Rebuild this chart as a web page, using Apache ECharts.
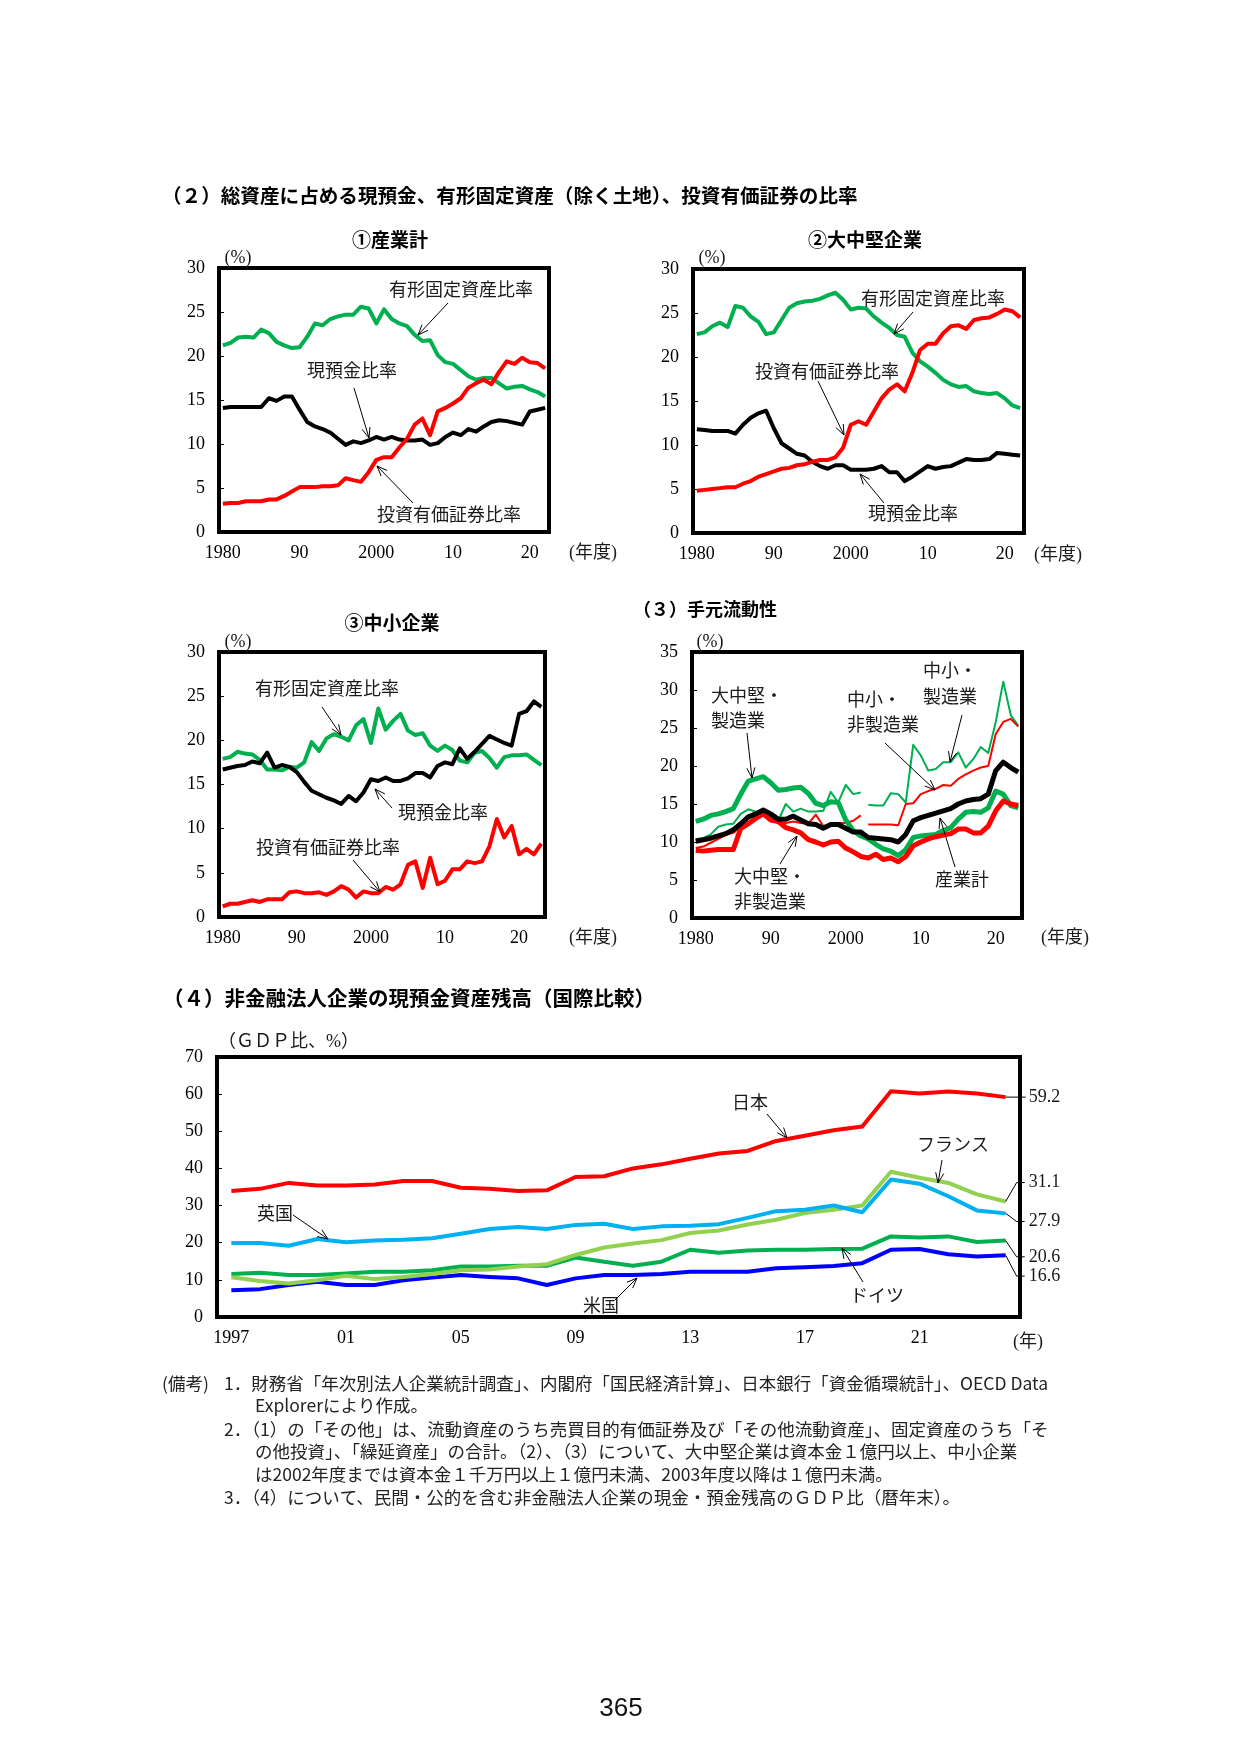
<!DOCTYPE html>
<html>
<head>
<meta charset="utf-8">
<script src="https://cdn.jsdelivr.net/npm/echarts@6/dist/echarts.min.js"></script>
<style>
  html, body { margin: 0; padding: 0; background: #fff; }
  #page { width: 1241px; height: 1755px; }
</style>
</head>
<body>
<div id="page"></div>
<script>
// 年度（カテゴリ）
function range(a, b) { var r = []; for (var i = a; i <= b; i++) r.push(String(i)); return r; }
var years80_22 = range(1980, 2022);
var years80_23 = range(1980, 2023);
var years97_24 = range(1997, 2024);

var tickYears = ['1980', '1990', '2000', '2010', '2020'];
var tickLabels = ['1980', '90', '2000', '10', '20'];
var tickYears5 = ['1997', '2001', '2005', '2009', '2013', '2017', '2021'];
var tickLabels5 = ['1997', '01', '05', '09', '13', '17', '21'];

// ①産業計
var c1Fixed = [21.2,21.5,22.1,22.2,22.1,23.0,22.6,21.6,21.2,20.9, 21.0,22.2,23.7,23.5,24.2,24.5,24.7,24.7,25.6,25.4, 23.7,25.3,24.2,23.7,23.4,22.4,21.7,21.8,20.1,19.3, 19.1,18.4,17.7,17.3,17.5,17.5,16.9,16.3,16.5,16.6, 16.2,15.9,15.4];
var c1Cash  = [14.1,14.2,14.2,14.2,14.2,14.2,15.2,14.9,15.4,15.4, 13.9,12.5,12.0,11.7,11.3,10.6,9.9,10.3,10.1,10.4, 10.8,10.5,10.8,10.5,10.4,10.4,10.5,9.9,10.1,10.8, 11.3,11.0,11.7,11.4,12.0,12.5,12.7,12.6,12.4,12.2, 13.7,13.9,14.1];
var c1Sec   = [3.2,3.3,3.3,3.5,3.5,3.5,3.7,3.7,4.1,4.6, 5.1,5.1,5.1,5.2,5.2,5.3,6.1,5.9,5.7,6.8, 8.2,8.5,8.5,9.6,10.6,12.2,12.9,11.0,13.7,14.1, 14.6,15.2,16.4,16.9,17.3,16.8,18.2,19.4,19.1,19.8, 19.3,19.2,18.6];

// ②大中堅企業
var c2Fixed = [22.6,22.8,23.5,23.9,23.4,25.8,25.6,24.6,24.0,22.6, 22.8,24.2,25.6,26.1,26.3,26.4,26.6,27.0,27.3,26.5, 25.4,25.6,25.5,24.6,23.9,23.3,22.5,22.3,20.5,19.5, 18.9,18.2,17.4,16.9,16.6,16.7,16.1,15.9,15.8,15.9, 15.3,14.5,14.2];
var c2Sec   = [4.8,4.9,5.0,5.1,5.2,5.2,5.6,5.9,6.4,6.7, 7.0,7.3,7.4,7.7,7.8,8.1,8.3,8.3,8.6,9.7, 12.3,12.7,12.3,13.8,15.3,16.3,16.9,16.1,18.2,20.8, 21.5,21.5,22.7,23.5,23.6,23.2,24.2,24.4,24.5,24.9, 25.4,25.2,24.5];
var c2Cash  = [11.8,11.7,11.6,11.6,11.6,11.3,12.3,13.1,13.6,13.9, 11.9,10.2,9.6,9.0,8.8,8.1,7.6,7.3,7.7,7.7, 7.2,7.2,7.2,7.3,7.6,6.9,6.9,5.9,6.4,7.0, 7.6,7.3,7.5,7.6,8.0,8.4,8.3,8.3,8.4,9.1, 9.0,8.9,8.8];

// ③中小企業
var c3Fixed = [17.9,18.1,18.7,18.5,18.4,17.8,16.7,16.7,16.6,17.0, 16.9,17.5,19.8,18.8,20.2,20.7,20.4,20.0,21.7,22.4, 19.7,23.6,21.2,22.2,23.0,21.1,20.6,20.8,19.4,18.8, 19.4,18.9,17.7,17.5,18.6,18.8,18.0,16.9,18.1,18.3, 18.3,18.4,17.8,17.2];
var c3Cash  = [16.7,16.9,17.1,17.2,17.6,17.4,18.6,16.9,17.2,17.0, 16.4,15.3,14.3,13.9,13.5,13.2,12.8,13.7,13.1,14.1, 15.6,15.4,15.8,15.4,15.4,15.7,16.3,16.3,15.8,17.1, 17.5,17.3,19.1,17.9,18.7,19.6,20.5,20.1,19.7,19.4, 23.0,23.3,24.4,23.8];
var c3Sec   = [1.2,1.5,1.5,1.7,1.9,1.7,2.0,2.0,2.0,2.8, 2.9,2.7,2.7,2.8,2.5,2.9,3.5,3.1,2.2,2.9, 2.7,2.7,3.4,3.1,3.7,5.9,6.3,3.3,6.7,3.7, 4.1,5.4,5.4,6.3,6.1,6.3,8.0,11.1,9.0,10.3, 7.1,7.7,7.1,8.3];

// （３）手元流動性
var liqTotal    = [10.1,10.3,10.5,10.8,11.1,11.6,12.4,13.3,13.7,14.2, 13.7,13.0,13.0,13.4,12.9,12.4,12.3,11.8,12.3,12.3, 11.8,11.3,11.3,10.6,10.5,10.4,10.3,10.0,11.0,12.8, 13.2,13.5,13.8,14.1,14.4,15.0,15.4,15.6,15.7,16.3, 19.4,20.5,19.8,19.2];
var liqLargeMfg = [12.7,13.0,13.5,13.7,14.0,14.4,16.3,18.0,18.3,18.6, 17.8,16.8,16.9,17.1,17.2,16.4,15.1,14.8,15.3,15.2, 12.9,11.5,10.8,10.4,9.7,9.1,8.8,8.2,9.0,10.6, 10.8,10.9,11.0,11.5,11.9,13.0,13.9,14.0,13.9,14.5, 16.7,16.3,14.8,14.5];
var liqLargeNon = [8.9,8.8,8.9,9.0,9.0,9.0,11.8,12.4,13.1,13.7, 12.9,12.7,11.9,11.6,11.2,10.3,10.0,9.6,10.0,10.1, 9.2,8.7,8.1,7.9,8.4,7.7,7.9,7.4,8.1,9.5, 10.0,10.4,10.7,10.9,11.1,11.7,11.7,11.2,11.2,12.1, 14.1,15.4,15.0,14.8];
// 中小：2002年度まで / 2003年度以降（定義変更で不連続）
var liqSmeMfgPre  = [10.4,10.5,11.0,12.0,12.3,12.4,13.7,14.3,14.0,13.8, 13.2,12.8,15.0,14.0,14.4,14.0,14.0,14.1,16.6,15.2, 17.5,16.3,16.5];
var liqSmeMfgPost = [14.9,14.8,14.8,16.4,16.3,15.2,22.8, 21.4,19.4,19.6,20.5,20.5,21.8,19.8,20.9,22.5,21.7, 25.8,31.1,26.7,25.3];
var liqSmeNonPre  = [9.2,9.4,9.9,10.4,10.9,11.2,12.0,12.6,13.2,13.8, 13.0,12.5,12.5,12.7,12.5,12.4,13.6,12.1,12.3,12.5, 12.5,12.8,13.5];
var liqSmeNonPost = [12.3,12.3,12.3,12.3,12.2,15.0,15.1, 16.3,16.7,17.0,17.5,17.4,18.3,18.9,19.4,19.8,20.0, 24.2,25.8,26.2,25.2];

// （４）国際比較（GDP比、%）
var japan   = [33.9,34.5,36.1,35.4,35.4,35.7,36.6,36.6,34.8,34.5,33.9,34.1,37.7,37.9,40.0,41.1,42.6,44.0,44.7,47.4,48.8,50.3,51.3,60.8,60.2,60.7,60.2,59.2];
var france  = [10.7,9.7,9.0,9.9,11.1,10.2,10.8,11.6,12.6,12.8,13.6,14.2,16.7,18.7,19.8,20.7,22.6,23.3,24.9,26.2,28.0,28.9,30.0,39.1,37.5,36.1,33.0,31.1];
var uk      = [19.9,19.9,19.2,21.0,20.1,20.6,20.8,21.2,22.4,23.7,24.2,23.7,24.8,25.1,23.7,24.4,24.6,25.0,26.7,28.5,28.9,30.0,28.2,37.0,35.9,32.5,28.7,27.9];
var germany = [11.6,11.9,11.3,11.3,11.7,12.2,12.2,12.6,13.6,13.6,13.8,13.8,16.0,14.9,13.8,14.9,18.1,17.3,17.9,18.1,18.1,18.3,18.4,21.7,21.4,21.7,20.2,20.6];
var us      = [7.2,7.5,8.6,9.5,8.6,8.6,9.9,10.6,11.3,10.8,10.4,8.6,10.4,11.3,11.3,11.6,12.2,12.2,12.2,13.1,13.4,13.7,14.5,18.1,18.3,16.9,16.3,16.6];

var RED = '#ff0000', GREEN = '#00b050', BLACK = '#000000', LGREEN = '#92d050', CYAN = '#00b0f0', BLUE = '#0000ff';
var SERIF = '"Liberation Serif", "Noto Sans CJK JP", serif';
var JP = '"Noto Sans CJK JP", "Noto Sans", sans-serif';

var myChart = echarts.init(document.getElementById('page'), null, { renderer: 'canvas' });

var grids = [
  { left: 219, top: 268, width: 330, height: 264 },
  { left: 693, top: 269, width: 331, height: 264 },
  { left: 219, top: 652, width: 326, height: 265 },
  { left: 692, top: 652, width: 330, height: 266 },
  { left: 217, top: 1057, width: 803, height: 260 }
];

function xAxis(g, cats, ticks, labels) {
  return {
    type: 'category', gridIndex: g, data: cats, boundaryGap: true,
    axisLine: { show: false }, axisTick: { show: false }, splitLine: { show: false },
    axisLabel: {
      interval: function (i, v) { return ticks.indexOf(v) >= 0; },
      formatter: function (v) { return labels[ticks.indexOf(v)]; },
      fontFamily: SERIF, fontSize: 18, color: '#000', margin: 12
    }
  };
}
function yAxis(g, max, step) {
  return {
    type: 'value', gridIndex: g, min: 0, max: max, interval: step,
    axisLine: { show: false }, splitLine: { show: false },
    axisTick: { show: true, inside: true, length: 5, lineStyle: { color: '#000', width: 1 } },
    axisLabel: { fontFamily: SERIF, fontSize: 18, color: '#000', margin: 14 }
  };
}
function line(g, name, data, color, width) {
  return {
    type: 'line', name: name, xAxisIndex: g, yAxisIndex: g, data: data,
    symbol: 'none', silent: true, connectNulls: false,
    lineStyle: { color: color, width: width, join: 'round' }, itemStyle: { color: color }
  };
}
function nulls(n) { var r = []; for (var i = 0; i < n; i++) r.push(null); return r; }

var option = {
  backgroundColor: '#fff',
  animation: false,
  grid: grids.map(function (r) {
    return { left: r.left, top: r.top, width: r.width, height: r.height, show: true,
      borderColor: '#000', borderWidth: 4, backgroundColor: 'transparent', outerBoundsMode: 'none' };
  }),
  xAxis: [
    xAxis(0, years80_22, tickYears, tickLabels),
    xAxis(1, years80_22, tickYears, tickLabels),
    xAxis(2, years80_23, tickYears, tickLabels),
    xAxis(3, years80_23, tickYears, tickLabels),
    xAxis(4, years97_24, tickYears5, tickLabels5)
  ],
  yAxis: [yAxis(0, 30, 5), yAxis(1, 30, 5), yAxis(2, 30, 5), yAxis(3, 35, 5), yAxis(4, 70, 10)],
  series: [
    line(0, '有形固定資産比率', c1Fixed, GREEN, 4),
    line(0, '現預金比率', c1Cash, BLACK, 4),
    line(0, '投資有価証券比率', c1Sec, RED, 4),

    line(1, '有形固定資産比率', c2Fixed, GREEN, 4),
    line(1, '現預金比率', c2Cash, BLACK, 4),
    line(1, '投資有価証券比率', c2Sec, RED, 4),

    line(2, '有形固定資産比率', c3Fixed, GREEN, 4),
    line(2, '現預金比率', c3Cash, BLACK, 4),
    line(2, '投資有価証券比率', c3Sec, RED, 4),

    line(3, '中小・製造業', liqSmeMfgPre.concat(nulls(liqSmeMfgPost.length)), GREEN, 2),
    line(3, '中小・製造業', nulls(liqSmeMfgPre.length).concat(liqSmeMfgPost), GREEN, 2),
    line(3, '中小・非製造業', liqSmeNonPre.concat(nulls(liqSmeNonPost.length)), RED, 2),
    line(3, '中小・非製造業', nulls(liqSmeNonPre.length).concat(liqSmeNonPost), RED, 2),
    line(3, '大中堅・製造業', liqLargeMfg, GREEN, 5),
    line(3, '大中堅・非製造業', liqLargeNon, RED, 5),
    line(3, '産業計', liqTotal, BLACK, 5),

    line(4, '米国', us, BLUE, 4),
    line(4, 'ドイツ', germany, GREEN, 4),
    line(4, 'フランス', france, LGREEN, 4),
    line(4, '英国', uk, CYAN, 4),
    line(4, '日本', japan, RED, 4)
  ]
};
myChart.setOption(option);

// 文字・注記
var els = [];
function txt(x, y, s, o) {
  o = o || {};
  els.push({
    type: 'text', x: x, y: y, z: 100, silent: true,
    style: {
      text: s, fontSize: o.size || 18, fontFamily: o.font || JP, fontWeight: o.weight || 'normal',
      fill: o.color || '#1a1a1a', align: o.align || 'left', verticalAlign: 'middle',
      lineHeight: o.lh || undefined
    }
  });
}
function arrow(x1, y1, x2, y2) {
  var a = Math.atan2(y2 - y1, x2 - x1), L = 11, w = 0.38;
  els.push({ type: 'line', z: 100, silent: true, shape: { x1: x1, y1: y1, x2: x2, y2: y2 }, style: { stroke: '#000', lineWidth: 1 } });
  els.push({ type: 'polyline', z: 100, silent: true,
    shape: { points: [[x2 - L * Math.cos(a - w), y2 - L * Math.sin(a - w)], [x2, y2], [x2 - L * Math.cos(a + w), y2 - L * Math.sin(a + w)]] },
    style: { stroke: '#000', fill: null, lineWidth: 1 } });
}

// 見出し
txt(162, 196, '（２）総資産に占める現預金、有形固定資産（除く土地）、投資有価証券の比率', { size: 19.6, weight: 'bold', color: '#000' });
txt(390, 240, '①産業計', { size: 19, weight: 'bold', align: 'center', color: '#000' });
txt(865, 240, '②大中堅企業', { size: 19, weight: 'bold', align: 'center', color: '#000' });
txt(392, 623, '③中小企業', { size: 19, weight: 'bold', align: 'center', color: '#000' });
txt(633, 609, '（３）手元流動性', { size: 18, weight: 'bold', color: '#000' });
txt(163, 998, '（４）非金融法人企業の現預金資産残高（国際比較）', { size: 20.5, weight: 'bold', color: '#000' });

// 単位
[[238, 258], [712, 258], [238, 642], [710, 642]].forEach(function (p) {
  txt(p[0], p[1], '(%)', { font: SERIF, size: 18, align: 'center' });
});
[[593, 553], [1058, 555], [593, 938], [1065, 938]].forEach(function (p) {
  txt(p[0], p[1], '(年度)', { font: SERIF, size: 18, align: 'center' });
});
txt(218, 1042, '（ＧＤＰ比、%）', { font: SERIF, size: 18 });
txt(1028, 1342, '(年)', { font: SERIF, size: 18, align: 'center' });

// 系列の注記
var notes = [
  // ①
  { t: '有形固定資産比率', x: 389, y: 289, a: [448, 303, 418, 335] },
  { t: '現預金比率', x: 307, y: 370, a: [354, 388, 369, 438] },
  { t: '投資有価証券比率', x: 377, y: 514, a: [413, 503, 377, 466] },
  // ②
  { t: '有形固定資産比率', x: 861, y: 298, a: [913, 312, 894, 334] },
  { t: '投資有価証券比率', x: 755, y: 371, a: [818, 381, 844, 435] },
  { t: '現預金比率', x: 868, y: 513, a: [884, 503, 860, 474] },
  // ③
  { t: '有形固定資産比率', x: 255, y: 688, a: [322, 707, 341, 735] },
  { t: '現預金比率', x: 398, y: 812, a: [392, 808, 375, 789] },
  { t: '投資有価証券比率', x: 256, y: 847, a: [353, 860, 380, 892] },
  // （３）
  { t: '大中堅・\n製造業', x: 711, y: 708, lh: 25, a: [747, 733, 752, 778] },
  { t: '大中堅・\n非製造業', x: 734, y: 889, lh: 25, a: [780, 864, 797, 836] },
  { t: '中小・\n非製造業', x: 847, y: 712, lh: 25, a: [885, 743, 935, 790] },
  { t: '中小・\n製造業', x: 923, y: 683, lh: 26, a: [962, 715, 950, 762] },
  { t: '産業計', x: 935, y: 879, a: [955, 867, 940, 818] },
  // （４）
  { t: '英国', x: 257, y: 1213, a: [293, 1215, 328, 1239] },
  { t: '米国', x: 583, y: 1305, a: [615, 1300, 637, 1278] },
  { t: '日本', x: 732, y: 1102, a: [767, 1114, 787, 1138] },
  { t: 'フランス', x: 917, y: 1144, a: [942, 1160, 938, 1183] },
  { t: 'ドイツ', x: 850, y: 1295, a: [863, 1282, 842, 1248] }
];
notes.forEach(function (n) {
  txt(n.x, n.y, n.t, { size: 18, lh: n.lh });
  arrow(n.a[0], n.a[1], n.a[2], n.a[3]);
});

// （４）右端の値ラベル
var endSeries = [japan, france, uk, germany, us];
var labelAt = [59.2, 36.2, 25.7, 16.2, 11.0];
var last = years97_24.length - 1;
endSeries.forEach(function (s, i) {
  var p = myChart.convertToPixel({ gridIndex: 4 }, [last, s[last]]);
  var ly = myChart.convertToPixel({ gridIndex: 4 }, [last, labelAt[i]])[1];
  var pts = Math.abs(ly - p[1]) < 2 ? [[p[0], p[1]], [p[0] + 20, p[1]]] : [[p[0], p[1]], [p[0] + 11, ly], [p[0] + 19, ly]];
  els.push({ type: 'polyline', z: 100, silent: true, shape: { points: pts }, style: { stroke: '#000', fill: null, lineWidth: 1 } });
  txt(p[0] + 23, ly, s[last].toFixed(1), { font: SERIF, size: 18 });
});

// 備考
var noteLines = [
  [162, 1383, '(備考)'],
  [224, 1383, '1．財務省「年次別法人企業統計調査」、内閣府「国民経済計算」、日本銀行「資金循環統計」、OECD Data'],
  [255, 1405, 'Explorerにより作成。'],
  [224, 1429, '2．（1）の「その他」は、流動資産のうち売買目的有価証券及び「その他流動資産」、固定資産のうち「そ'],
  [255, 1451, 'の他投資」、「繰延資産」の合計。（2）、（3）について、大中堅企業は資本金１億円以上、中小企業'],
  [255, 1474, 'は2002年度までは資本金１千万円以上１億円未満、2003年度以降は１億円未満。'],
  [224, 1497, '3．（4）について、民間・公的を含む非金融法人企業の現金・預金残高のＧＤＰ比（暦年末）。']
];
noteLines.forEach(function (l) { txt(l[0], l[1], l[2], { size: 17.5, color: '#222' }); });

txt(621, 1709, '365', { font: '"Liberation Sans Narrow", "Liberation Sans", sans-serif', size: 26, align: 'center', color: '#111' });

myChart.setOption({ graphic: { elements: els } });

window.addEventListener('resize', function () { myChart.resize(); });
</script>
</body>
</html>
